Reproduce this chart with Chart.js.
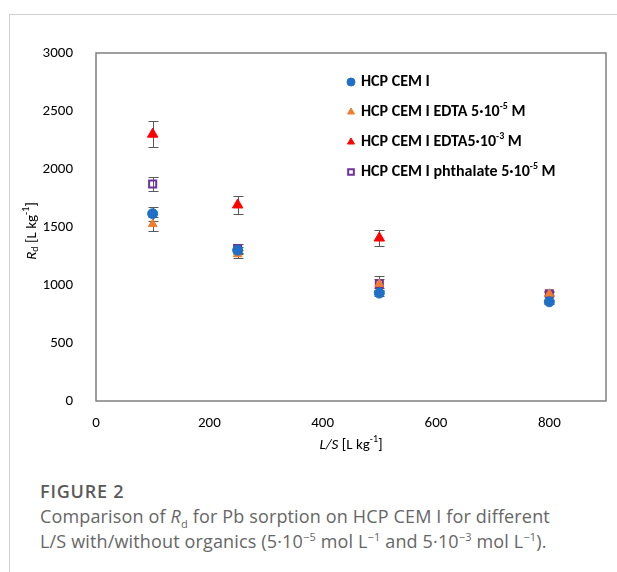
<!DOCTYPE html>
<html>
<head>
<meta charset="utf-8">
<script src="https://cdn.jsdelivr.net/npm/chart.js@4"></script>
<style>
  body { margin: 0; background: #fff; }
  #wrap { position: relative; width: 617px; height: 572px; overflow: hidden; }
  #frameTop { position: absolute; left: 9px; top: 14px; width: 608px; height: 1px; background: #cfcfcf; }
  #frameLeft { position: absolute; left: 9px; top: 14px; width: 1px; height: 558px; background: #cfcfcf; }
  #chart { position: absolute; left: 0; top: 0; }
  #caption { position: absolute; left: 40px; top: 478px; font-family: "Open Sans", sans-serif; color: #666; }
  #caption .fig { font-weight: 600; font-size: 18px; letter-spacing: 0.8px; color: #5a5a5a; line-height: 26px; }
  #caption .txt { font-size: 18px; line-height: 25px; letter-spacing: 0.15px; }
  sup, sub { font-size: 11px; line-height: 0; }
</style>
</head>
<body>
<div id="wrap">
  <div id="frameTop"></div>
  <div id="frameLeft"></div>
  <canvas id="chart" width="617" height="460"></canvas>
  <div id="caption">
    <div class="fig">FIGURE 2</div>
    <div class="txt">Comparison of <i>R</i><sub>d</sub> for Pb sorption on HCP CEM I for different<br>L/S with/without organics (5·10<sup>−5</sup> mol L<sup>−1</sup> and 5·10<sup>−3</sup> mol L<sup>−1</sup>).</div>
  </div>
</div>
<script>
// L/S [L kg-1]
const lsValues = [100, 250, 500, 800];

// Rd [L kg-1] and error bars (+/-)
const cem1 = [1615, 1300, 930, 855];
const cem1Err = [60, 30, 25, 15];
const edta5 = [1525, 1265, 1010, 925];
const edta5Err = [60, 35, 65, 15];
const edta3 = [2300, 1690, 1405, null];
const edta3Err = [110, 80, 70, null];
const phth = [1870, 1315, 1010, 925];
const phthErr = [60, 40, 40, 20];

const yTicks = [0, 500, 1000, 1500, 2000, 2500, 3000];

const FONT = 'Carlito, Lato, sans-serif';

function pts(ys, errs) {
    return lsValues.map((x, i) => ({ x: x, y: ys[i], err: errs[i] })).filter(p => p.y !== null);
}

// mixed text: parts = [{t, italic, pos: 'sup'|'sub'}]
function drawRich(ctx, parts, x, y, size, bold, align) {
    const fontFor = p => (p.italic ? 'italic ' : '') + (bold ? 'bold ' : '') + (p.pos ? Math.round(size * 0.65) : size) + 'px ' + FONT;
    let total = 0;
    parts.forEach(p => { ctx.font = fontFor(p); total += ctx.measureText(p.t).width; });
    let cx = align === 'center' ? x - total / 2 : x;
    ctx.textBaseline = 'middle';
    ctx.textAlign = 'left';
    parts.forEach(p => {
        ctx.font = fontFor(p);
        let dy = 0;
        if (p.pos === 'sup') dy = -size * 0.35;
        if (p.pos === 'sub') dy = size * 0.25;
        ctx.fillText(p.t, cx, y + dy);
        cx += ctx.measureText(p.t).width;
    });
}

const legendItems = [
    [{ t: 'HCP CEM I' }],
    [{ t: 'HCP CEM I EDTA 5·10' }, { t: '-5', pos: 'sup' }, { t: ' M' }],
    [{ t: 'HCP CEM I EDTA5·10' }, { t: '-3', pos: 'sup' }, { t: ' M' }],
    [{ t: 'HCP CEM I phthalate 5·10' }, { t: '-5', pos: 'sup' }, { t: ' M' }]
];
const legendRowsY = [82, 112, 142, 172];

const extras = {
    id: 'extras',
    beforeDatasetsDraw(chart) {
        const ctx = chart.ctx;
        const xs = chart.scales.x, ys = chart.scales.y;
        ctx.save();
        ctx.strokeStyle = '#595959';
        ctx.lineWidth = 1;
        chart.data.datasets.forEach(ds => {
            ds.data.forEach(p => {
                if (p.err == null) return;
                const px = Math.round(xs.getPixelForValue(p.x)) + 0.5;
                const top = Math.round(ys.getPixelForValue(p.y + p.err)) + 0.5;
                const bot = Math.round(ys.getPixelForValue(p.y - p.err)) + 0.5;
                ctx.beginPath();
                ctx.moveTo(px, top); ctx.lineTo(px, bot);
                ctx.moveTo(px - 5, top); ctx.lineTo(px + 5, top);
                ctx.moveTo(px - 5, bot); ctx.lineTo(px + 5, bot);
                ctx.stroke();
            });
        });
        ctx.restore();
    },
    afterDraw(chart) {
        const ctx = chart.ctx;
        const a = chart.chartArea;
        ctx.save();
        // plot frame
        ctx.strokeStyle = '#7f7f7f';
        ctx.lineWidth = 1.5;
        ctx.strokeRect(a.left, a.top, a.right - a.left, a.bottom - a.top);
        ctx.fillStyle = '#000';
        // axis titles
        drawRich(ctx, [{ t: 'L/S', italic: true }, { t: ' [L kg' }, { t: '-1', pos: 'sup' }, { t: ']' }],
            (a.left + a.right) / 2, 445, 15, false, 'center');
        ctx.save();
        ctx.translate(32, (a.top + a.bottom) / 2 + 4);
        ctx.rotate(-Math.PI / 2);
        drawRich(ctx, [{ t: 'R', italic: true }, { t: 'd', pos: 'sub' }, { t: ' [L kg' }, { t: '-1', pos: 'sup' }, { t: ']' }],
            0, 0, 15, false, 'center');
        ctx.restore();
        // legend
        chart.data.datasets.forEach((ds, i) => {
            const y = legendRowsY[i];
            ctx.save();
            ctx.fillStyle = ds.pointBackgroundColor;
            ctx.strokeStyle = ds.pointBorderColor;
            ctx.lineWidth = ds.pointBorderWidth;
            Chart.helpers.drawPoint(ctx, {
                pointStyle: ds.pointStyle,
                radius: 4,
                borderWidth: ds.pointBorderWidth
            }, 351, y);
            ctx.restore();
            ctx.fillStyle = '#000';
            drawRich(ctx, legendItems[i], 361, y, 16, true, 'left');
        });
        ctx.restore();
    }
};

new Chart(document.getElementById('chart'), {
    type: 'scatter',
    data: {
        datasets: [
            {
                label: 'HCP CEM I',
                data: pts(cem1, cem1Err),
                pointStyle: 'circle', pointRadius: 5,
                pointBackgroundColor: '#1f6fc6', pointBorderColor: '#1f6fc6', pointBorderWidth: 1
            },
            {
                label: 'HCP CEM I EDTA 5·10-5 M',
                data: pts(edta5, edta5Err),
                pointStyle: 'triangle', pointRadius: 5,
                pointBackgroundColor: '#f07d2c', pointBorderColor: '#f07d2c', pointBorderWidth: 1
            },
            {
                label: 'HCP CEM I EDTA5·10-3 M',
                data: pts(edta3, edta3Err),
                pointStyle: 'triangle', pointRadius: 6,
                pointBackgroundColor: '#ff0000', pointBorderColor: '#ff0000', pointBorderWidth: 1
            },
            {
                label: 'HCP CEM I phthalate 5·10-5 M',
                data: pts(phth, phthErr),
                pointStyle: 'rect', pointRadius: 5,
                pointBackgroundColor: 'rgba(0,0,0,0)', pointBorderColor: '#7030a0', pointBorderWidth: 2
            }
        ]
    },
    plugins: [extras],
    options: {
        responsive: false,
        animation: false,
        layout: { padding: { left: 0, top: 53, right: 11, bottom: 0 } },
        plugins: { legend: { display: false }, tooltip: { enabled: false } },
        scales: {
            x: {
                type: 'linear', min: 0, max: 900,
                grid: { display: false }, border: { display: false },
                ticks: { stepSize: 200, padding: 5, color: '#000', font: { family: FONT, size: 15 },
                    callback: v => (v % 200 === 0 ? String(v) : '') },
                afterFit: s => { s.height = 59; }
            },
            y: {
                min: 0, max: 3000,
                grid: { display: false }, border: { display: false },
                afterBuildTicks: s => { s.ticks = yTicks.map(v => ({ value: v })); },
                ticks: { padding: 15, color: '#000', font: { family: FONT, size: 15 },
                    callback: v => String(v) },
                afterFit: s => { s.width = 96; }
            }
        }
    }
});
</script>
</body>
</html>
